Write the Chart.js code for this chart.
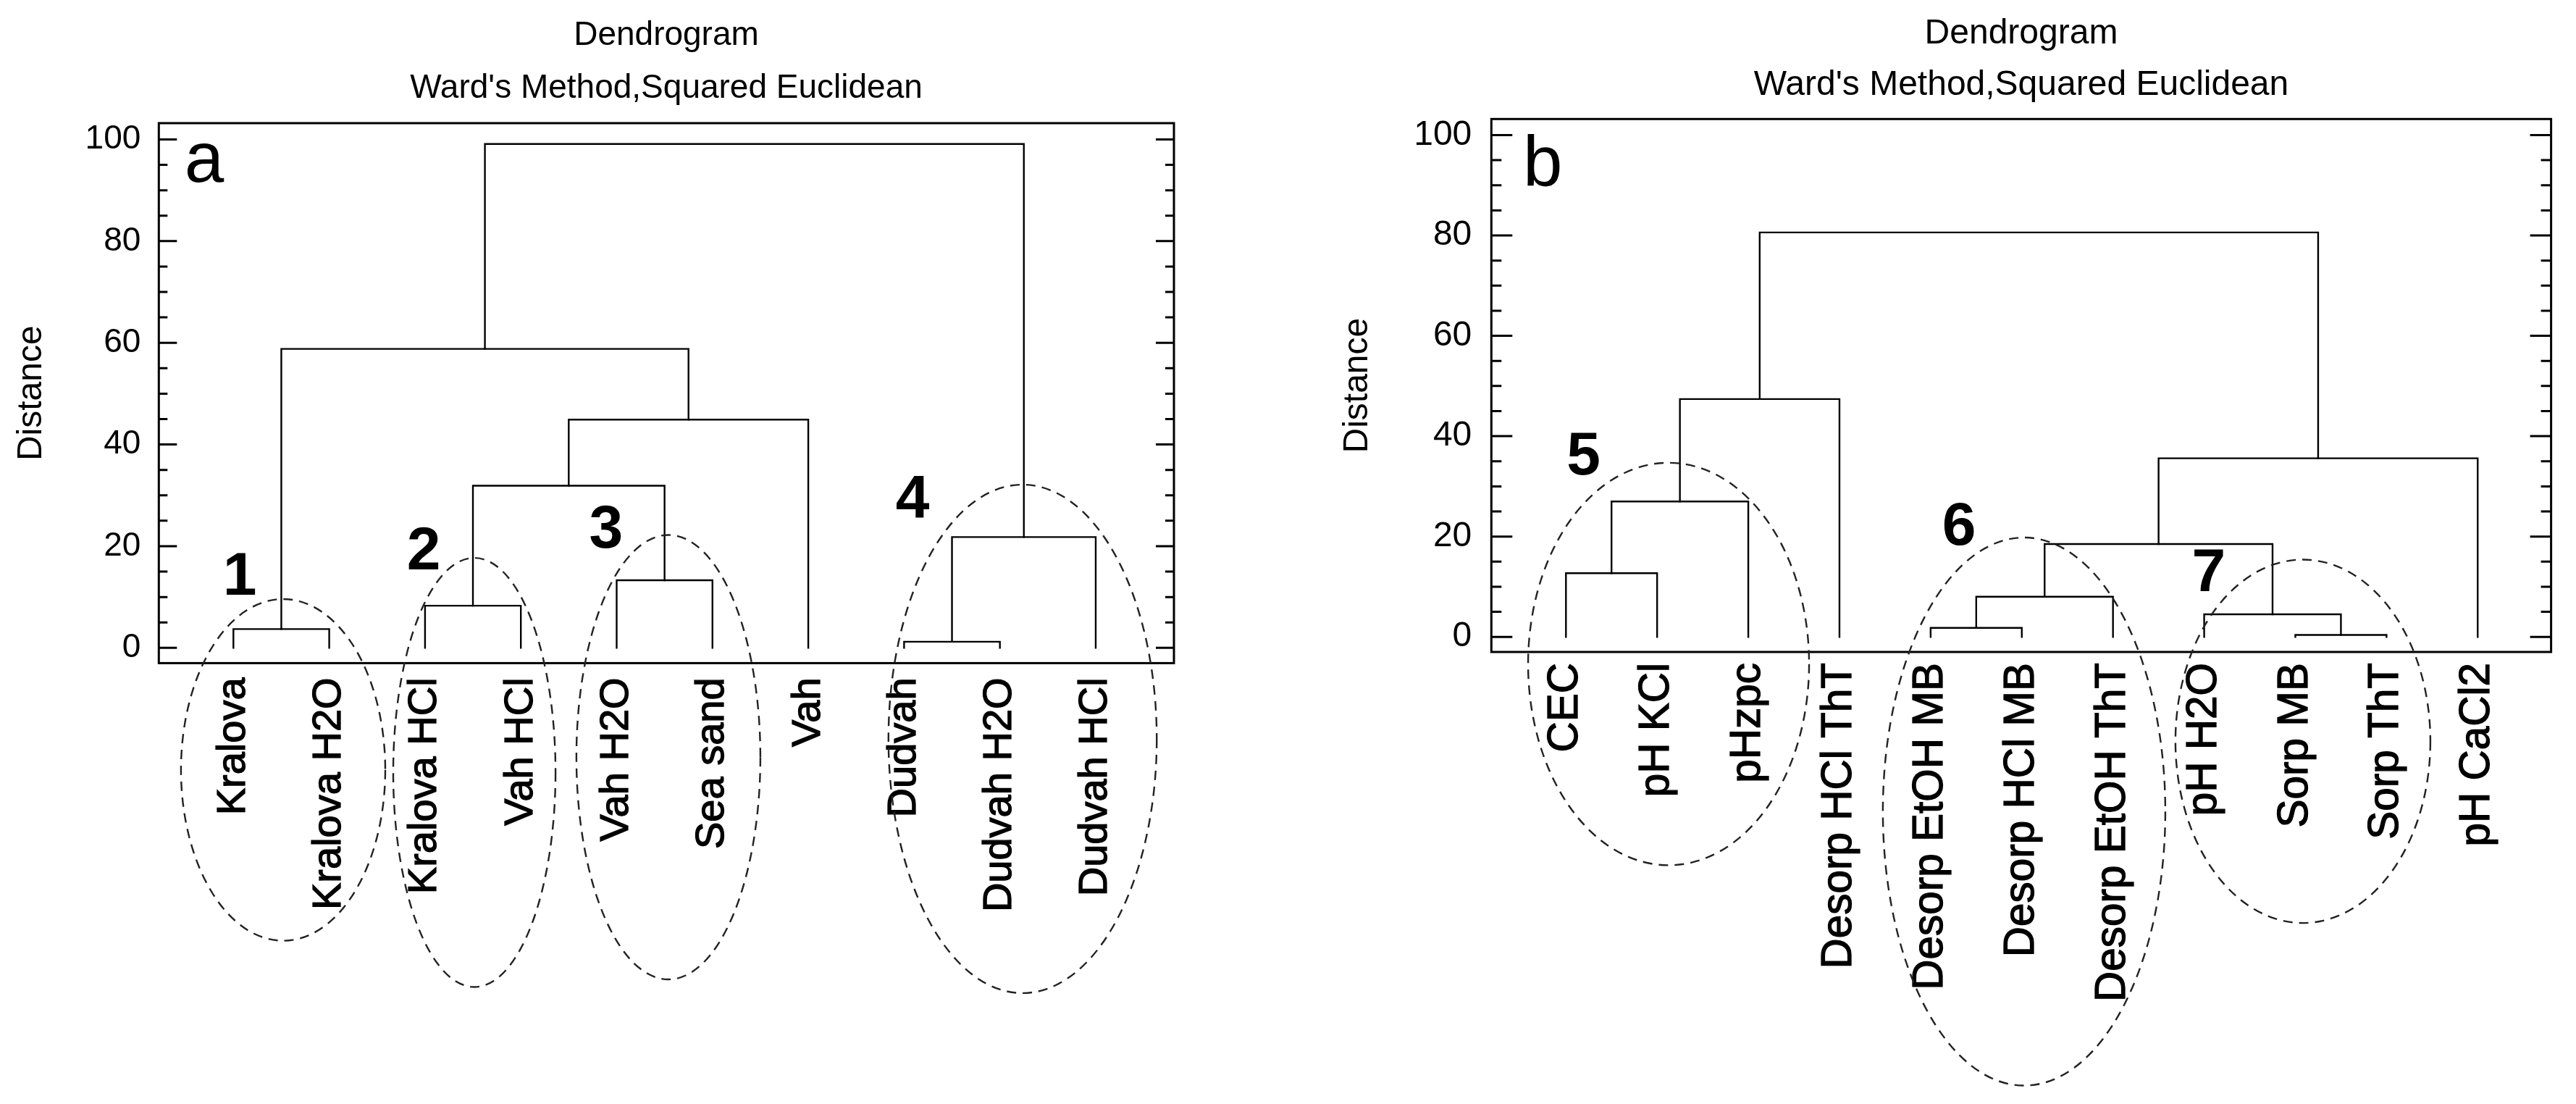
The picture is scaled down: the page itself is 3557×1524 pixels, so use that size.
<!DOCTYPE html>
<html>
<head>
<meta charset="utf-8">
<script src="https://cdn.jsdelivr.net/npm/chart.js@4.4.1/dist/chart.umd.min.js"></script>
<style>
  html, body { margin: 0; padding: 0; background: #fff; overflow: hidden; width: 3557px; height: 1524px; position: relative; }
  canvas { position: absolute; top: 0; }
  #chartA { left: 0px; }
  #chartB { left: 1838px; }
</style>
</head>
<body>
<canvas id="chartA" width="1840" height="1524" style="width:1840px;height:1524px"></canvas>
<canvas id="chartB" width="1906" height="1524" style="width:1906px;height:1524px"></canvas>
<script>
// ---------------- DATA ----------------
const titleText = 'Dendrogram';
const subtitleText = "Ward's Method,Squared Euclidean";
const yAxisTitle = 'Distance';

// Panel a: leaves in dendrogram order
const leavesA = ['Kralova', 'Kralova H2O', 'Kralova HCl', 'Vah HCl', 'Vah H2O', 'Sea sand', 'Vah', 'Dudvah', 'Dudvah H2O', 'Dudvah HCl'];
// merges [left id, right id, distance]; ids < n are leaves, id n+k is the k-th merge
const mergesA = [
  [0, 1, 3.7],
  [2, 3, 8.3],
  [4, 5, 13.3],
  [7, 8, 1.2],
  [13, 9, 21.8],
  [11, 12, 31.9],
  [15, 6, 44.9],
  [10, 16, 58.8],
  [17, 14, 99.1]
];

// Panel b
const leavesB = ['CEC', 'pH KCl', 'pHzpc', 'Desorp HCl ThT', 'Desorp EtOH MB', 'Desorp HCl MB', 'Desorp EtOH ThT', 'pH H2O', 'Sorp MB', 'Sorp ThT', 'pH CaCl2'];
const mergesB = [
  [0, 1, 12.7],
  [11, 2, 27.0],
  [12, 3, 47.4],
  [4, 5, 1.8],
  [14, 6, 8.0],
  [8, 9, 0.4],
  [7, 16, 4.5],
  [15, 17, 18.5],
  [18, 10, 35.6],
  [13, 19, 80.6]
];

// axis ticks
const yMajorStep = 20;
const yMinorStep = 5;
const yTickTop = 100;

// cluster annotations (ellipse centre/radii in axis units) and their numbers
const ringsA = [
  { cx: 1.519, cy: -24.0, rx: 1.066, ry: 33.6 },
  { cx: 3.515, cy: -24.5, rx: 0.847, ry: 42.2 },
  { cx: 5.540, cy: -21.5, rx: 0.960, ry: 43.7 },
  { cx: 9.237, cy: -17.9, rx: 1.400, ry: 50.0 }
];
const ringLabelsA = [
  { text: '1', x: 1.066, y: 10.45 },
  { text: '2', x: 2.986, y: 15.44 },
  { text: '3', x: 4.890, y: 19.71 },
  { text: '4', x: 8.088, y: 25.55 }
];
const ringsB = [
  { cx: 2.126, cy: -5.4, rx: 1.541, ry: 40.1 },
  { cx: 6.025, cy: -34.8, rx: 1.549, ry: 54.6 },
  { cx: 9.083, cy: -20.8, rx: 1.398, ry: 36.2 }
];
const ringLabelsB = [
  { text: '5', x: 1.194, y: 32.37 },
  { text: '6', x: 5.311, y: 18.37 },
  { text: '7', x: 8.051, y: 9.13 }
];

// ---------------- RENDERING ----------------
const FONT = "'Liberation Sans', Arial, Helvetica, sans-serif";

function buildLinks(leaves, merges) {
  const pos = leaves.map((_, i) => i + 1);
  const hgt = leaves.map(() => 0);
  const sets = [];
  merges.forEach(([a, b, h]) => {
    const xa = pos[a], xb = pos[b];
    sets.push({
      data: [{ x: xa, y: hgt[a] }, { x: xa, y: h }, { x: xb, y: h }, { x: xb, y: hgt[b] }],
      showLine: true,
      borderColor: '#000',
      borderWidth: 2.4,
      pointRadius: 0,
      pointHoverRadius: 0,
      fill: false,
      tension: 0,
      borderCapStyle: 'square',
      borderJoinStyle: 'miter'
    });
    pos.push((xa + xb) / 2);
    hgt.push(h);
  });
  return sets;
}

const decorPlugin = {
  id: 'decor',
  afterDraw(chart, args, o) {
    const { ctx, chartArea: a } = chart;
    const xs = chart.scales.x, ys = chart.scales.y;
    ctx.save();
    // frame
    ctx.strokeStyle = '#000';
    ctx.lineWidth = 3;
    ctx.setLineDash([]);
    ctx.strokeRect(a.left, a.top, a.right - a.left, a.bottom - a.top);
    // inward tick marks on both sides
    ctx.lineWidth = 3;
    ctx.beginPath();
    for (let v = 0; v <= yTickTop; v += yMinorStep) {
      const py = ys.getPixelForValue(v);
      const len = (v % yMajorStep === 0) ? o.major : o.minor;
      ctx.moveTo(a.left, py); ctx.lineTo(a.left + len, py);
      ctx.moveTo(a.right, py); ctx.lineTo(a.right - len, py);
    }
    ctx.stroke();
    // dashed cluster ellipses
    ctx.strokeStyle = '#222';
    ctx.lineWidth = 2.4;
    ctx.setLineDash([13, 9]);
    o.rings.forEach(r => {
      const cx = xs.getPixelForValue(r.cx), cy = ys.getPixelForValue(r.cy);
      const rx = Math.abs(xs.getPixelForValue(r.cx + r.rx) - cx);
      const ry = Math.abs(ys.getPixelForValue(r.cy + r.ry) - cy);
      ctx.beginPath();
      ctx.ellipse(cx, cy, rx, ry, 0, 0, Math.PI * 2);
      ctx.stroke();
    });
    ctx.setLineDash([]);
    // cluster numbers
    ctx.fillStyle = '#000';
    ctx.font = 'bold ' + o.numSize + 'px ' + FONT;
    ctx.textAlign = 'center';
    ctx.textBaseline = 'alphabetic';
    o.numbers.forEach(n => {
      ctx.fillText(n.text, xs.getPixelForValue(n.x), ys.getPixelForValue(n.y));
    });
    // panel letter
    ctx.font = o.letterSize + 'px ' + FONT;
    ctx.textAlign = 'left';
    ctx.fillText(o.letter.text, xs.getPixelForValue(o.letter.x), ys.getPixelForValue(o.letter.y));
    ctx.restore();
  }
};

function makeChart(id, leaves, merges, L) {
  return new Chart(document.getElementById(id), {
    type: 'scatter',
    data: { datasets: buildLinks(leaves, merges) },
    options: {
      responsive: false,
      maintainAspectRatio: false,
      animation: false,
      devicePixelRatio: 1,
      events: [],
      layout: { padding: 0 },
      plugins: {
        legend: { display: false },
        tooltip: { enabled: false },
        title: {
          display: true, text: titleText, color: '#000',
          font: { family: FONT, size: L.titleSize, weight: 'normal', lineHeight: 1.2 },
          padding: { top: L.titlePadTop, bottom: 0 }
        },
        subtitle: {
          display: true, text: subtitleText, color: '#000',
          font: { family: FONT, size: L.titleSize, weight: 'normal', lineHeight: 1.2 },
          padding: { top: L.subPadTop, bottom: L.subPadBottom }
        },
        decor: {
          major: L.tickMajor, minor: L.tickMinor,
          rings: L.rings, numbers: L.numbers, numSize: 84,
          letter: L.letter, letterSize: 98
        }
      },
      scales: {
        x: {
          type: 'linear', position: 'bottom', min: L.xMin, max: L.xMax,
          grid: { display: false, drawTicks: false },
          border: { display: false },
          ticks: {
            stepSize: 1, includeBounds: false, autoSkip: false,
            minRotation: 90, maxRotation: 90,
            padding: L.labelPad, color: '#000',
            textStrokeColor: '#000', textStrokeWidth: 1.3,
            font: { family: FONT, size: L.leafSize },
            callback: (v) => (Number.isInteger(v) && leaves[v - 1] !== undefined) ? leaves[v - 1] : ''
          },
          afterFit: (s) => { s.height = L.xAxisHeight; }
        },
        y: {
          type: 'linear', position: 'left', min: -3, max: 103.2,
          grid: { display: false, drawTicks: false },
          border: { display: false },
          ticks: {
            stepSize: yMajorStep, includeBounds: false,
            padding: L.tickPad, color: '#000',
            font: { family: FONT, size: L.tickSize }
          },
          title: {
            display: true, text: yAxisTitle, color: '#000',
            font: { family: FONT, size: 48, lineHeight: 1.2 },
            padding: { top: L.yTitlePad, bottom: 0 }
          },
          afterFit: (s) => { s.width = L.yAxisWidth; }
        },
        y2: {
          type: 'linear', position: 'right', display: true,
          grid: { display: false, drawTicks: false },
          border: { display: false },
          ticks: { display: false },
          afterFit: (s) => { s.width = L.rightWidth; }
        }
      }
    },
    plugins: [decorPlugin]
  });
}

makeChart('chartA', leavesA, mergesA, {
  titleSize: 46, titlePadTop: 21.5, subPadTop: 17.8, subPadBottom: 20.3,
  xMin: 0.2215, xMax: 10.8165, xAxisHeight: 608.6, labelPad: 20, leafSize: 56,
  yAxisWidth: 219.3, rightWidth: 219, tickPad: 25, tickSize: 46, yTitlePad: 15.2,
  tickMajor: 25, tickMinor: 12,
  rings: ringsA, numbers: ringLabelsA, letter: { text: 'a', x: 0.49, y: 91.7 }
});

makeChart('chartB', leavesB, mergesB, {
  titleSize: 48, titlePadTop: 17.8, subPadTop: 13.9, subPadBottom: 17.4,
  xMin: 0.182, xMax: 11.805, xAxisHeight: 624, labelPad: 15, leafSize: 58.5,
  yAxisWidth: 221.3, rightWidth: 221.4, tickPad: 27, tickSize: 48, yTitlePad: 7.9,
  tickMajor: 29, tickMinor: 14,
  rings: ringsB, numbers: ringLabelsB, letter: { text: 'b', x: 0.53, y: 89.9 }
});
</script>
</body>
</html>
